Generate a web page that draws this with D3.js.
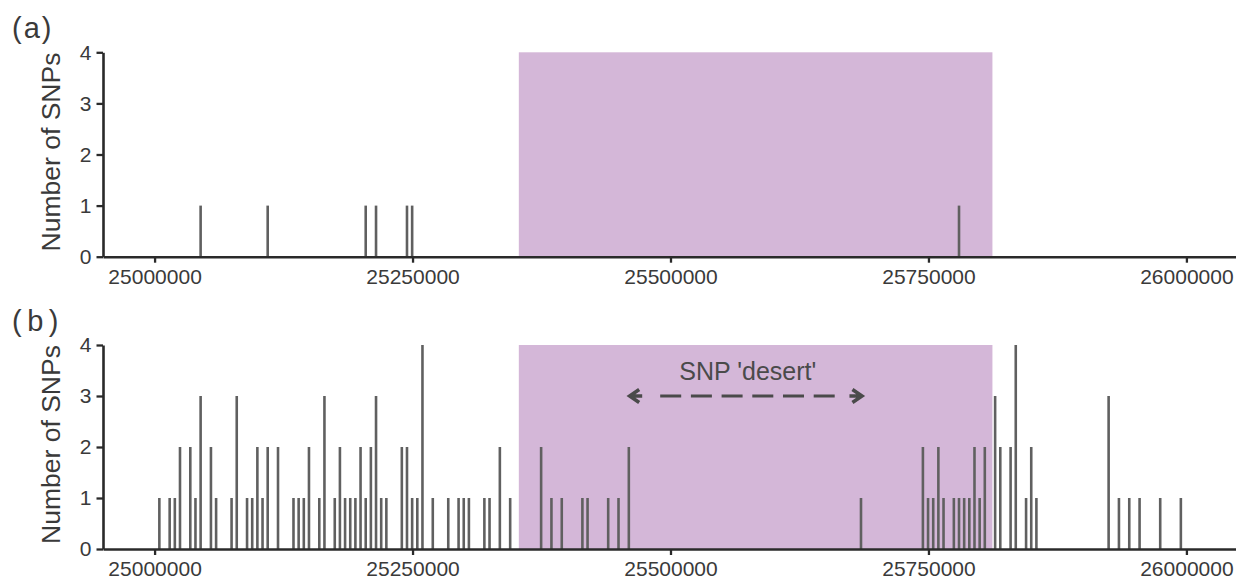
<!DOCTYPE html>
<html>
<head>
<meta charset="utf-8">
<script src="https://cdn.jsdelivr.net/npm/d3@7"></script>
<style>
  body { margin: 0; background: #fff; }
  svg { display: block; font-family: "Liberation Sans", Arial, sans-serif; }
</style>
</head>
<body>
<svg id="chart" width="1236" height="581"></svg>
<script>
// SNP positions (bp, 5 kb bins) and counts per bin
var posA = [25045000, 25110000, 25205000, 25215000, 25245000, 25250000, 25780000];
var countA = [1, 1, 1, 1, 1, 1, 1];

var posB = [25005000, 25015000, 25020000, 25025000, 25035000, 25040000, 25045000, 25055000,
  25060000, 25075000, 25080000, 25090000, 25095000, 25100000, 25105000, 25110000,
  25120000, 25135000, 25140000, 25145000, 25150000, 25160000, 25165000, 25175000,
  25180000, 25185000, 25190000, 25195000, 25200000, 25205000, 25210000, 25215000,
  25220000, 25225000, 25240000, 25245000, 25250000, 25255000, 25260000, 25270000,
  25285000, 25295000, 25300000, 25305000, 25320000, 25325000, 25335000, 25345000,
  25375000, 25385000, 25395000, 25415000, 25420000, 25440000, 25450000, 25460000,
  25685000,
  25745000, 25750000, 25755000, 25760000, 25765000, 25775000, 25780000, 25785000,
  25790000, 25795000, 25800000, 25805000, 25815000, 25820000, 25830000, 25835000,
  25845000, 25850000, 25855000, 25925000, 25935000, 25945000, 25955000, 25975000,
  25995000];
var countB = [1, 1, 1, 2, 2, 1, 3, 2,
  1, 1, 3, 1, 1, 2, 1, 2,
  2, 1, 1, 1, 2, 1, 3, 1,
  2, 1, 1, 1, 2, 1, 2, 3,
  1, 1, 2, 2, 1, 1, 4, 1,
  1, 1, 1, 1, 1, 1, 2, 1,
  2, 1, 1, 1, 1, 1, 1, 2,
  1,
  2, 1, 1, 2, 1, 1, 1, 1,
  1, 2, 1, 2, 3, 2, 2, 4,
  1, 2, 1, 3, 1, 1, 1, 1,
  1];

var xTicks = [25000000, 25250000, 25500000, 25750000, 26000000];
var yTicks = [0, 1, 2, 3, 4];
var region = [25353000, 25812000];     // shaded region
var desert = [25459000, 25687000];     // arrow span
var desertLabel = "SNP 'desert'";

var svg = d3.select("#chart");

var axisColor = "#2a2a2a";
var textColor = "#3a3a3a";
var barColor = "#606060";
var regionColor = "#d4b7d8";

var x = d3.scaleLinear().domain([24950000, 26050000]).range([103, 1238]);

function panel(top, bottom, pos, counts, label, spacing) {
  var y = d3.scaleLinear().domain([0, 4]).range([bottom, top]);
  var g = svg.append("g");

  g.append("rect")
    .attr("x", x(region[0]))
    .attr("y", y(4))
    .attr("width", x(region[1]) - x(region[0]))
    .attr("height", y(0) - y(4))
    .style("fill", regionColor);

  g.selectAll(".bar")
    .data(pos)
    .enter()
    .append("line")
    .attr("class", "bar")
    .attr("x1", function(d) { return x(d) - 0.4; })
    .attr("x2", function(d) { return x(d) - 0.4; })
    .attr("y1", y(0))
    .attr("y2", function(d, i) { return y(counts[i]); })
    .style("stroke", barColor)
    .style("stroke-width", "2.6px");

  var xAxis = g.append("g")
    .attr("transform", "translate(0," + y(0) + ")")
    .call(d3.axisBottom(x).tickValues(xTicks).tickFormat(d3.format("d"))
      .tickSize(6).tickPadding(6).tickSizeOuter(0));

  var yAxis = g.append("g")
    .attr("transform", "translate(" + x.range()[0] + ",0)")
    .call(d3.axisLeft(y).tickValues(yTicks).tickFormat(d3.format("d"))
      .tickSize(6.5).tickPadding(5).tickSizeOuter(0));

  [xAxis, yAxis].forEach(function(a) {
    a.select(".domain").style("stroke", axisColor).style("stroke-width", "2.6px");
    a.selectAll(".tick line").style("stroke", axisColor).style("stroke-width", "2.3px");
    a.selectAll(".tick text")
      .style("fill", textColor)
      .style("font-size", "21px")
      .style("font-family", "'Liberation Sans', Arial, sans-serif");
  });

  g.append("text")
    .attr("transform", "translate(59.5," + (y(2) - 2.5) + ") rotate(-90)")
    .attr("text-anchor", "middle")
    .style("font-size", "26.5px")
    .style("fill", textColor)
    .text("Number of SNPs");

  g.append("text")
    .attr("x", 12)
    .attr("y", y(4) - 14)
    .style("font-size", "29px")
    .style("letter-spacing", spacing + "px")
    .style("fill", textColor)
    .text(label);

  return y;
}

panel(52.3, 256.7, posA, countA, "(a)", 2);
var yB = panel(345, 549, posB, countB, "(b)", 5.5);

// SNP desert arrow
var ay = yB(3);
var xl = x(desert[0]), xr = x(desert[1]);
var arrowColor = "#4a4a4a";

svg.append("line")
  .attr("x1", xl + 32)
  .attr("x2", xr - 28)
  .attr("y1", ay)
  .attr("y2", ay)
  .style("stroke", arrowColor)
  .style("stroke-width", "3.2px")
  .style("stroke-dasharray", "21,9.7");

[[xl, 1], [xr, -1]].forEach(function(a) {
  var t = a[0], s = a[1];
  svg.append("path")
    .attr("d", "M" + (t + s * 11) + "," + (ay - 6.5) + " L" + (t + 1.5 * s) + "," + ay +
      " L" + (t + s * 11) + "," + (ay + 6.5) + " M" + (t + 2 * s) + "," + ay + " L" + (t + s * 14) + "," + ay)
    .style("fill", "none")
    .style("stroke", arrowColor)
    .style("stroke-width", "3.6px")
    .style("stroke-linejoin", "miter");
});

svg.append("text")
  .attr("x", (xl + xr) / 2 + 2)
  .attr("y", ay - 16)
  .attr("text-anchor", "middle")
  .style("font-size", "25px")
  .style("fill", arrowColor)
  .text(desertLabel);
</script>
</body>
</html>
